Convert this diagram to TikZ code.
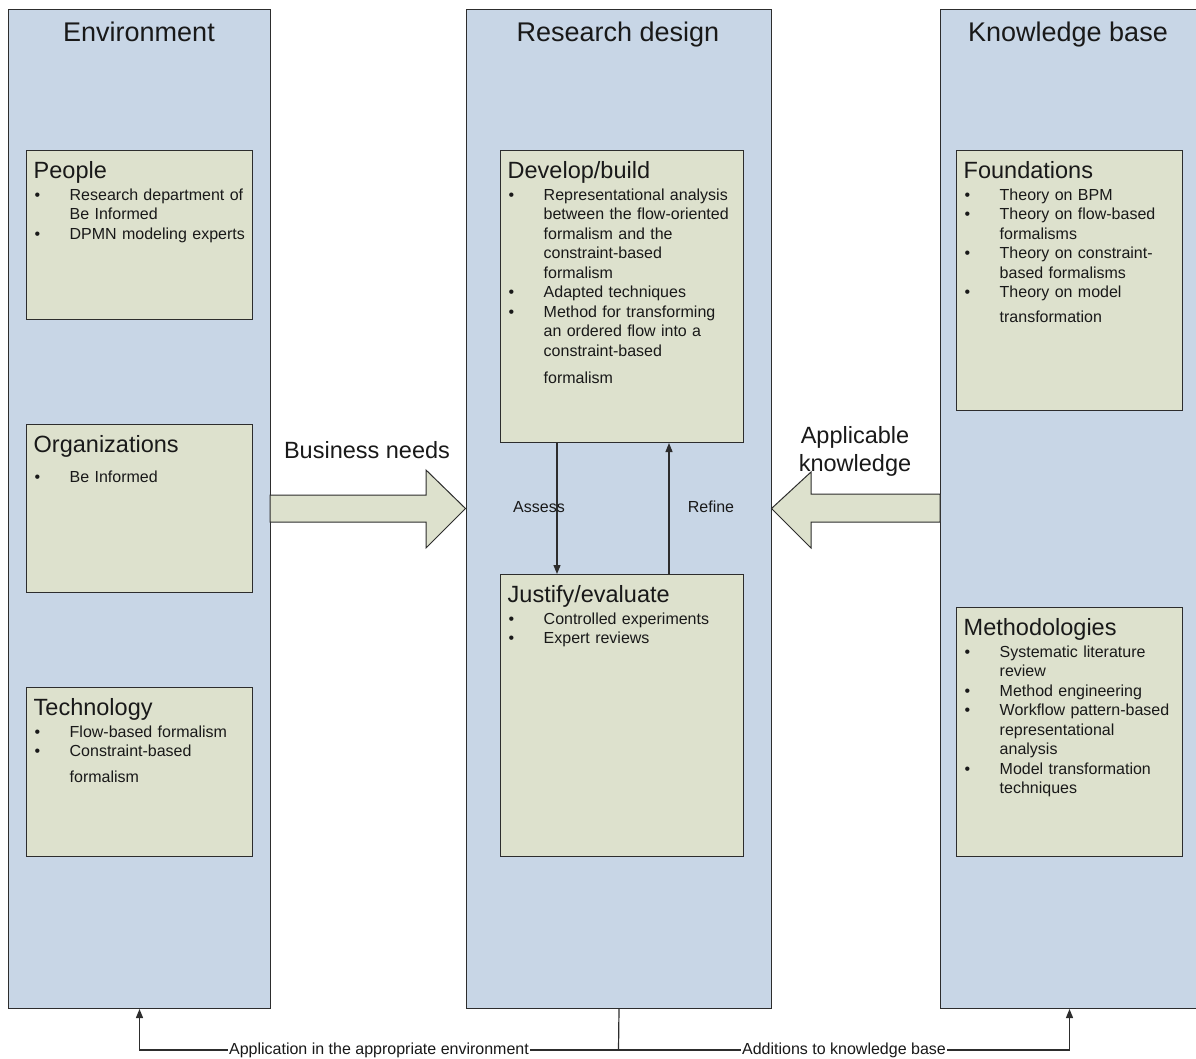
\documentclass[tikz,border=0pt]{standalone}
\usepackage{fontspec}
\setmainfont{Liberation Sans}
\usetikzlibrary{arrows.meta,calc}

\definecolor{colfill}{RGB}{200,214,230}
\definecolor{boxfill}{RGB}{221,225,205}
\definecolor{edge}{RGB}{45,45,45}
\definecolor{ink}{RGB}{25,25,25}

% panel heading, bullet entries and forced line breaks inside an entry
\newcommand\boxhead[1]{\noindent\rule{0pt}{20pt}{\fontsize{23.5}{24}\selectfont #1}\par\vskip2.1pt}
\newcommand\bitem[1]{\par\noindent\hangindent=36pt\hangafter=1\makebox[36pt][l]{\hspace{1pt}\textbullet}#1}
\newcommand\lbr[1][0pt]{\unskip\nobreak\hfil\vadjust{\vskip#1}\break}

\tikzset{
  column/.style={draw=edge, line width=1pt, fill=colfill, inner sep=0pt, anchor=north west},
  panel/.style={draw=edge, line width=1pt, fill=boxfill, inner sep=0pt, anchor=north west},
  coltitle/.style={font=\fontsize{27}{27}\selectfont, text=ink, anchor=base, inner sep=0pt},
  paneltext/.style={anchor=north west, inner sep=0pt, text width=230pt,
    font=\fontsize{16}{19.5}\selectfont, text=ink},
  blockarrow/.style={draw=edge, line width=1pt, fill=boxfill, line join=miter},
  flow/.style={draw=edge, line width=1.2pt, -{Triangle[length=9pt,width=7pt]}},
  biglbl/.style={font=\fontsize{23.5}{24}\selectfont, text=ink, anchor=base, inner sep=0pt},
  lbl/.style={font=\fontsize{16}{16}\selectfont, text=ink, inner sep=0pt},
  midlabel/.style={font=\fontsize{16}{16}\selectfont, text=ink, fill=white, inner sep=1pt}
}

\begin{document}
\begin{tikzpicture}[x=1pt, y=-1pt]
\useasboundingbox (0,0) rectangle (1196,1059);

% three columns
\node[column, minimum width=262pt, minimum height=999pt] (env) at (8,9) {};
\node[column, minimum width=305pt, minimum height=999pt] (rd) at (466,9) {};
\node[column, minimum width=258pt, minimum height=999pt] (kb) at (940,9) {};

\node[coltitle] (envtitle) at (139,41.7) {Environment};
\node[coltitle] (rdtitle) at (618,42) {Research design};
\node[coltitle] (kbtitle) at (1068,42) {Knowledge base};

% panels
\node[panel, minimum width=226pt, minimum height=169pt] (people) at (26,150) {};
\node[panel, minimum width=226pt, minimum height=168pt] (org) at (26,424) {};
\node[panel, minimum width=226pt, minimum height=169pt] (tech) at (26,687) {};
\node[panel, minimum width=243pt, minimum height=292pt] (dev) at (500,150) {};
\node[panel, minimum width=243pt, minimum height=282pt] (just) at (500,574) {};
\node[panel, minimum width=226pt, minimum height=260pt] (found) at (956,150) {};
\node[panel, minimum width=226pt, minimum height=249pt] (meth) at (956,607) {};

\node[paneltext] (peopletxt) at (33.5,158.6) {\boxhead{People}
\bitem{Research department of\lbr Be Informed}
\bitem{DPMN modeling experts}\par};

\node[paneltext] (orgtxt) at (33.5,432.6) {\boxhead{Organizations}\vskip8.5pt
\bitem{Be Informed}\par};

\node[paneltext] (techtxt) at (33.5,695.6) {\boxhead{Technology}
\bitem{Flow-based formalism}
\bitem{Constraint-based\lbr[6.5pt]formalism}\par};

\node[paneltext] (devtxt) at (507.5,158.6) {\boxhead{Develop/build}
\bitem{Representational analysis\lbr between the flow-oriented\lbr formalism and the\lbr constraint-based\lbr formalism}
\bitem{Adapted techniques}
\bitem{Method for transforming\lbr an ordered flow into a\lbr constraint-based\lbr[7.5pt]formalism}\par};

\node[paneltext] (justtxt) at (507.5,582.6) {\boxhead{Justify/evaluate}
\bitem{Controlled experiments}
\bitem{Expert reviews}\par};

\node[paneltext] (foundtxt) at (963.5,158.6) {\boxhead{Foundations}
\bitem{Theory on BPM}
\bitem{Theory on flow-based\lbr formalisms}
\bitem{Theory on constraint-\lbr based formalisms}
\bitem{Theory on model\lbr[5.5pt]transformation}\par};

\node[paneltext] (methtxt) at (963.5,615.6) {\boxhead{Methodologies}
\bitem{Systematic literature\lbr review}
\bitem{Method engineering}
\bitem{Workflow pattern-based\lbr representational\lbr analysis}
\bitem{Model transformation\lbr techniques}\par};

% block arrows between the columns
\draw[blockarrow] (270,495) -- (426,495) -- (426,470) -- (465.5,508.5)
  -- (426,548) -- (426,522) -- (270,522) -- cycle;
\node[biglbl] (needs) at (367,458.6) {Business needs};

\draw[blockarrow] (940,494) -- (811,494) -- (811,472) -- (771.5,508.5)
  -- (811,548) -- (811,522) -- (940,522) -- cycle;
\node[biglbl] (appl1) at (855,443.6) {Applicable};
\node[biglbl] (appl2) at (855,471.6) {knowledge};

% build / evaluate cycle
\draw[flow] ($(dev.south west)+(57,0)$) -- ($(just.north west)+(57,0)$);
\draw[flow] ($(just.north west)+(169,0)$) -- ($(dev.south west)+(169,0)$);
\node[lbl] (assess) at (539,507) {Assess};
\node[lbl] (refine) at (711,507) {Refine};

% feedback to environment and knowledge base
\coordinate (split) at (618.5,1050);
\draw[draw=edge, line width=1.2pt] (rd.south) -- (split);
\draw[flow] (split) -- node[midlabel] {Application in the appropriate environment}
  (env.south |- split) -- (env.south);
\draw[flow] (split) -- node[midlabel] {Additions to knowledge base}
  (kb.south |- split) -- (kb.south);
\end{tikzpicture}
\end{document}
